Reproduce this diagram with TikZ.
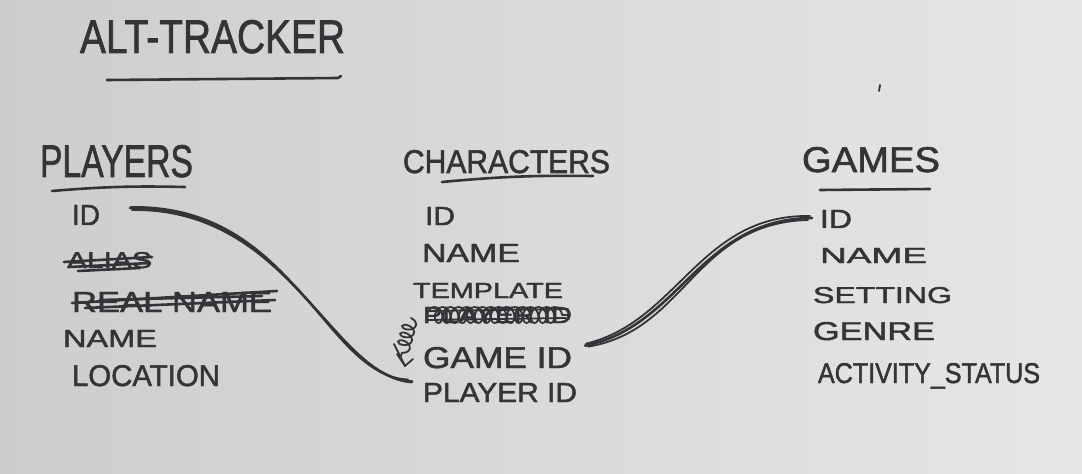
\documentclass[tikz,border=0pt]{standalone}
\usepackage{fontspec}
\setmainfont{Liberation Sans}[FakeBold=1.6]
\usetikzlibrary{calc,decorations.pathmorphing}
\newdimen\px \px=0.75pt
\definecolor{ink}{RGB}{52,52,56}
\definecolor{bgL}{RGB}{204,206,205}
\definecolor{bgR}{RGB}{229,231,230}
\tikzset{
  lbl/.style={anchor=base west,inner sep=0pt,outer sep=0pt,text=ink},
  pen/.style={draw=ink,line width=2.6\px,line cap=round,line join=round},
  thinpen/.style={draw=ink,line width=1.8\px,line cap=round,line join=round},
}
\newcommand{\hw}[3]{\resizebox{#1\px}{#2\px}{#3}}
\begin{document}
\begin{tikzpicture}[x=0.75pt,y=-0.75pt]
\useasboundingbox (0,0) rectangle (1082,474);
\shade[left color=bgL,right color=bgR] (0,0) rectangle (1082,474);

% title
\node[lbl] (title) at (80,53) {\hw{265}{33}{ALT-TRACKER}};
\draw[pen] (107,80) -- (338,78) -- (341,76);

% players
\node[lbl] (players) at (40,177) {\hw{153}{32}{PLAYERS}};
\draw[pen] (52,191) to[bend left=3] (185,187);
\node[lbl] (pid) at (72,225) {\hw{28}{20}{ID}};
\node[lbl] (palias) at (67,268) {\hw{85}{16}{ALIAS}};
\draw[pen] (64,262) -- (152,257);
\draw[pen] (70,267) -- (150,263);
\draw[pen] (78,271) -- (140,268);
\node[lbl] (preal) at (72,312) {\hw{200}{20}{REAL NAME}};
\draw[pen] (72,303) -- (277,291);
\draw[pen] (85,308) -- (275,300);
\draw[pen] (100,300) -- (262,296);
\node[lbl] (pname) at (63,347) {\hw{94}{17}{NAME}};
\node[lbl] (ploc) at (72,386) {\hw{148}{21}{LOCATION}};

% characters
\node[lbl] (chars) at (403,173) {\hw{207}{23}{CHARACTERS}};
\draw[pen] (442,182) to[bend left=3] (593,176);
\node[lbl] (cid) at (425,225) {\hw{30}{18}{ID}};
\node[lbl] (cname) at (422,262) {\hw{98}{18}{NAME}};
\node[lbl] (ctemp) at (413,298) {\hw{150}{15}{TEMPLATE}};
\node[lbl] (cstruck) at (423,323) {\hw{149}{16}{PLAYER ID}};
\draw[thinpen,decorate,decoration={coil,aspect=0.7,segment length=6pt,amplitude=6pt}] (427,315) -- (568,315);
\draw[thinpen] (426,311) -- (568,309);
\draw[thinpen] (428,320) -- (566,318);
\node[lbl] (cgame) at (423,368) {\hw{149}{21}{GAME ID}};
\node[lbl] (cplayer) at (423,402) {\hw{154}{19}{PLAYER ID}};
% small scribbled arrow
\draw[thinpen,decorate,decoration={coil,aspect=0.6,segment length=6pt,amplitude=5pt}] (411,318) -- (401,356);
\draw[thinpen] (397,354) -- (405,366) -- (413,359);
\draw[thinpen] (394,344) -- (405,366);

% games
\node[lbl] (games) at (802,172) {\hw{138}{25}{GAMES}};
\draw[pen] (820,190) -- (930,189);
\node[lbl] (gid) at (820,228) {\hw{32}{18}{ID}};
\node[lbl] (gname) at (820,263) {\hw{107}{15}{NAME}};
\node[lbl] (gset) at (813,303) {\hw{139}{16}{SETTING}};
\node[lbl] (ggenre) at (813,340) {\hw{122}{18}{GENRE}};
\node[lbl] (gact) at (818,383) {\hw{222}{20}{ACTIVITY\_STATUS}};

% stray mark
\draw[thinpen] (880,85) -- (879,91);

% connector players.ID -> characters.PLAYER ID
\coordinate (a1) at ($(pid.east)+(30,-7)$);
\coordinate (b1) at ($(cplayer.west)+(-11,-11)$);
\draw[pen] (a1) .. controls +(160,-3) and +(-82,-4) .. (b1);
\draw[thinpen] ($(a1)+(2,2)$) .. controls +(158,-2) and +(-80,-6) .. ($(b1)+(0,1)$);
\draw[thinpen] ($(a1)+(1,-1)$) .. controls +(164,-3) and +(-84,-3) .. ($(b1)+(-4,-2)$);

% connector characters.GAME ID -> games.ID
\coordinate (a2) at ($(cgame.east)+(13,-12)$);
\coordinate (b2) at ($(gid.west)+(-8,-1)$);
\draw[pen] (a2) .. controls +(95,-19) and +(-112,1) .. (b2);
\draw[thinpen] ($(a2)+(1,-2)$) .. controls +(92,-22) and +(-110,-2) .. ($(b2)+(-2,-2)$);
\draw[thinpen] ($(a2)+(3,1)$) .. controls +(98,-16) and +(-114,3) .. ($(b2)+(-4,2)$);
\end{tikzpicture}
\end{document}
